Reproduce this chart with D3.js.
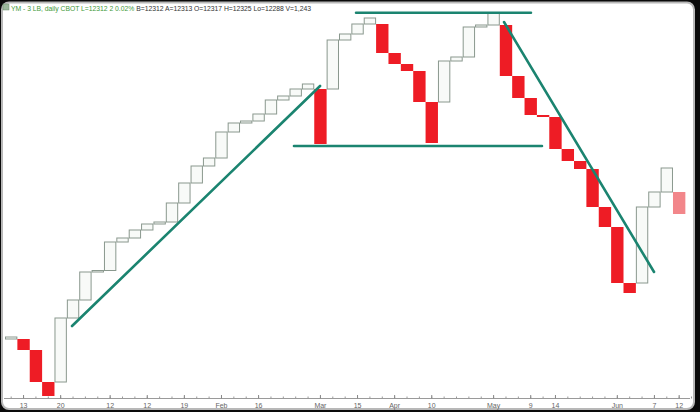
<!DOCTYPE html>
<html><head><meta charset="utf-8">
<script src="https://cdn.jsdelivr.net/npm/d3@7"></script>
<style>html,body{margin:0;padding:0;background:#000;}svg{display:block;}</style>
</head><body>
<script>
// Three-line-break bricks: open / close prices per column
const brickOpen  = [11812,11812,11768,11640,11640,11896,11968,12080,12086,12200,12216,12248,12272,12280,12356,12436,12504,12536,12640,12676,12684,12712,12768,12784,12812,12812,12812,13008,13032,13072,13072,12956,12912,12884,12760,12760,12924,12940,13060,13068,13068,12864,12776,12708,12700,12572,12524,12492,12340,12260,12036,12036,12340,12400,12400];
const brickClose = [11820,11768,11640,11584,11896,11968,12080,12086,12200,12216,12248,12272,12280,12356,12436,12504,12536,12640,12676,12684,12712,12768,12784,12812,12832,12592,13008,13032,13072,13096,12956,12912,12884,12760,12596,12924,12940,13060,13068,13116,12864,12776,12708,12700,12572,12524,12492,12340,12260,12036,11996,12340,12400,12496,12312];
const liveIndex = 54; // last (forming) brick

// x-axis ticks (column index) and labels
const tickIndex  = [1,4,8,11,14,17,20,25,28,31,34,39,42,44,49,52,54];
const tickLabels = ["13","20","12","12","19","Feb","16","Mar","15","Apr","10","May","9","14","Jun","7","12"];

// trend lines: [startIndex, startPrice, endIndex, endPrice]
const trendUp     = [5.42, 11864, 25.47, 12824];
const neckline    = [23.36, 12584, 43.41, 12584];
const topLine     = [28.38, 13117, 42.52, 13117];
const trendDown   = [40.34, 13080, 52.47, 12080];

const titleGreen = "YM - 3 LB, daily  CBOT  L=12312  2  0.02%  ";
const titleDark  = "B=12312  A=12313  O=12317  H=12325  Lo=12288  V=1,243";

const W = 700, H = 412;
const svg = d3.select("body").append("svg").attr("width", W).attr("height", H);

// frame
svg.append("rect").attr("x",0).attr("y",0).attr("width",W).attr("height",H).attr("fill","#0a0a0a");
svg.append("rect").attr("x",2).attr("y",2.5).attr("width",692).attr("height",406.5).attr("rx",7)
  .attr("fill","#ffffff").attr("stroke","#b8b8b8").attr("stroke-width",2);

const nCols = 56;
const x = d3.scaleLinear().domain([0, nCols]).range([5, 5 + nCols*12.37]);
const y = d3.scaleLinear().domain([11584, 13116]).range([396, 13]);

const bricks = brickOpen.map((o,i)=>({i, o, c: brickClose[i]}));

const g = svg.append("g");
g.selectAll("rect.brick").data(bricks).join("rect")
  .attr("class","brick")
  .attr("x", d => x(d.i) + (d.c>=d.o ? 0.5 : 0))
  .attr("width", d => x(d.i+1) - x(d.i) - (d.c>=d.o ? 1 : 0))
  .attr("y", d => y(Math.max(d.o,d.c)))
  .attr("height", d => Math.max(1, Math.abs(y(d.o)-y(d.c))))
  .attr("fill", d => d.i===liveIndex ? "#f2868a" : (d.c>=d.o ? "#f8faf8" : "#ee1c25"))
  .attr("stroke", d => d.i===liveIndex ? "none" : (d.c>=d.o ? "#8a988e" : "none"))
  .attr("stroke-width", 1);

// trend lines
const lines = [trendUp, neckline, topLine, trendDown];
g.selectAll("line.trend").data(lines).join("line")
  .attr("class","trend")
  .attr("x1", d=>x(d[0])).attr("y1", d=>y(d[1]))
  .attr("x2", d=>x(d[2])).attr("y2", d=>y(d[3]))
  .attr("stroke","#1b8470").attr("stroke-width",2.6).attr("stroke-linecap","round");

// x axis
const axisY = 398.5;
const ax = svg.append("g");
ax.append("line").attr("x1",4).attr("x2",690).attr("y1",axisY).attr("y2",axisY)
  .attr("stroke","#9a9a9a").attr("stroke-width",1);
ax.selectAll("line.minor").data(d3.range(nCols)).join("line").attr("class","minor")
  .attr("x1",d=>x(d+0.5)).attr("x2",d=>x(d+0.5)).attr("y1",axisY).attr("y2",axisY-2)
  .attr("stroke","#9a9a9a");
ax.selectAll("line.major").data(tickIndex).join("line").attr("class","major")
  .attr("x1",d=>x(d+0.5)).attr("x2",d=>x(d+0.5)).attr("y1",axisY).attr("y2",axisY-3.5)
  .attr("stroke","#888");
ax.selectAll("text").data(tickIndex).join("text")
  .attr("x",d=>x(d+0.5)).attr("y",408)
  .attr("text-anchor","middle").attr("font-family","Liberation Sans, Arial, sans-serif")
  .attr("font-size",7).attr("fill","#666")
  .text((d,k)=>tickLabels[k]);

// title
svg.append("rect").attr("x",3).attr("y",4).attr("width",6).attr("height",6).attr("fill","#9cb89c").attr("stroke","#6a8a6a").attr("stroke-width",0.5);
const t = svg.append("text").attr("x",11).attr("y",10.5)
  .attr("font-family","Liberation Sans, Arial, sans-serif").attr("font-size",6.8)
  .attr("textLength",300).attr("lengthAdjust","spacing");
t.append("tspan").attr("fill","#3f9a3a").text(titleGreen);
t.append("tspan").attr("fill","#333").text(titleDark);
</script>
</body></html>
